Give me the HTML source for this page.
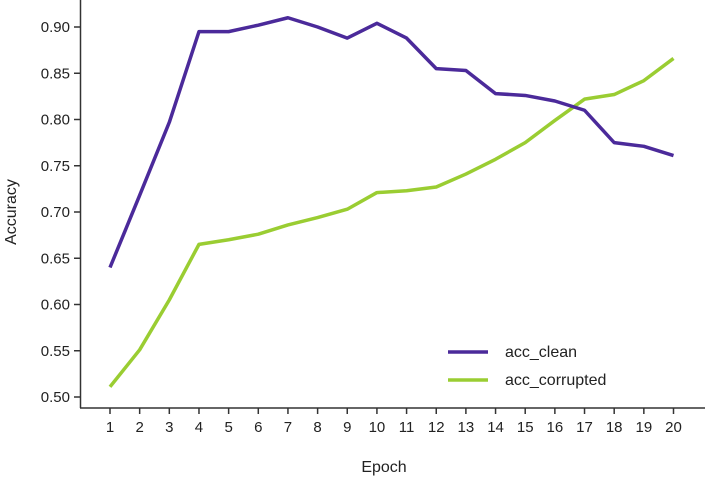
<!DOCTYPE html>
<html><head><meta charset="utf-8"><style>
html,body{margin:0;padding:0;background:#fff;}
svg{display:block;font-family:"Liberation Sans",sans-serif;}
</style></head><body>
<svg id="chart" width="708" height="479"></svg>
<script>
const epochs=[1,2,3,4,5,6,7,8,9,10,11,12,13,14,15,16,17,18,19,20];
const accClean=[0.640,0.718,0.797,0.895,0.895,0.902,0.910,0.900,0.888,0.904,0.888,0.855,0.853,0.828,0.826,0.820,0.810,0.775,0.771,0.761];
const accCorrupted=[0.511,0.551,0.605,0.665,0.670,0.676,0.686,0.694,0.703,0.721,0.723,0.727,0.741,0.757,0.775,0.799,0.822,0.827,0.842,0.866];
const yTicks=[0.50,0.55,0.60,0.65,0.70,0.75,0.80,0.85,0.90];
const NS="http://www.w3.org/2000/svg";
const svg=document.getElementById('chart');
const X=e=>110+(e-1)*(673.5-110)/19;
const Y=v=>397-(v-0.5)*(370/0.4);
function mk(t,a,p){const el=document.createElementNS(NS,t);for(const k in a)el.setAttribute(k,a[k]);(p||svg).appendChild(el);return el;}
const ax='#333';
let el=mk('line',{x1:80.5,y1:0,x2:80.5,y2:408,stroke:ax,'stroke-width':1.5});


el=mk('line',{x1:80,y1:408,x2:705,y2:408,stroke:ax,'stroke-width':1.5});


yTicks.forEach(v=>{
 const t=mk('line',{x1:74,y1:Y(v),x2:80,y2:Y(v),stroke:ax,'stroke-width':1.5});
 
 
 const l=mk('text',{x:70,y:Y(v)+5,'text-anchor':'end','font-size':15,fill:'#222'});
 l.textContent=v.toFixed(2);
 
 
});
epochs.forEach(e=>{
 const t=mk('line',{x1:X(e),y1:408,x2:X(e),y2:414,stroke:ax,'stroke-width':1.5});
 
 
 const l=mk('text',{x:X(e),y:432,'text-anchor':'middle','font-size':15,fill:'#222'});
 l.textContent=e;
 
 
});
el=mk('text',{x:384,y:472,'text-anchor':'middle','font-size':16,fill:'#222'});
el.textContent='Epoch';


el=mk('text',{x:0,y:0,'text-anchor':'middle','font-size':16,fill:'#222',transform:'translate(16,212) rotate(-90)'});
el.textContent='Accuracy';


function series(vals,color,name){
 const p=mk('polyline',{points:vals.map((v,i)=>X(epochs[i])+','+Y(v)).join(' '),fill:'none',stroke:color,'stroke-width':3.5,'stroke-linejoin':'round'});
 
 
}
series(accCorrupted,'#9acd32','line-acc-corrupted');
series(accClean,'#4b2a9a','line-acc-clean');
[['acc_clean','#4b2a9a',352],['acc_corrupted','#9acd32',380]].forEach(([n,c,y])=>{
 const g=mk('g',{});
 
 
 mk('line',{x1:448,y1:y,x2:488,y2:y,stroke:c,'stroke-width':3.5},g);
 const t=mk('text',{x:505,y:y+5,'font-size':16,fill:'#222'},g);
 t.textContent=n;
});
</script>
</body></html>
